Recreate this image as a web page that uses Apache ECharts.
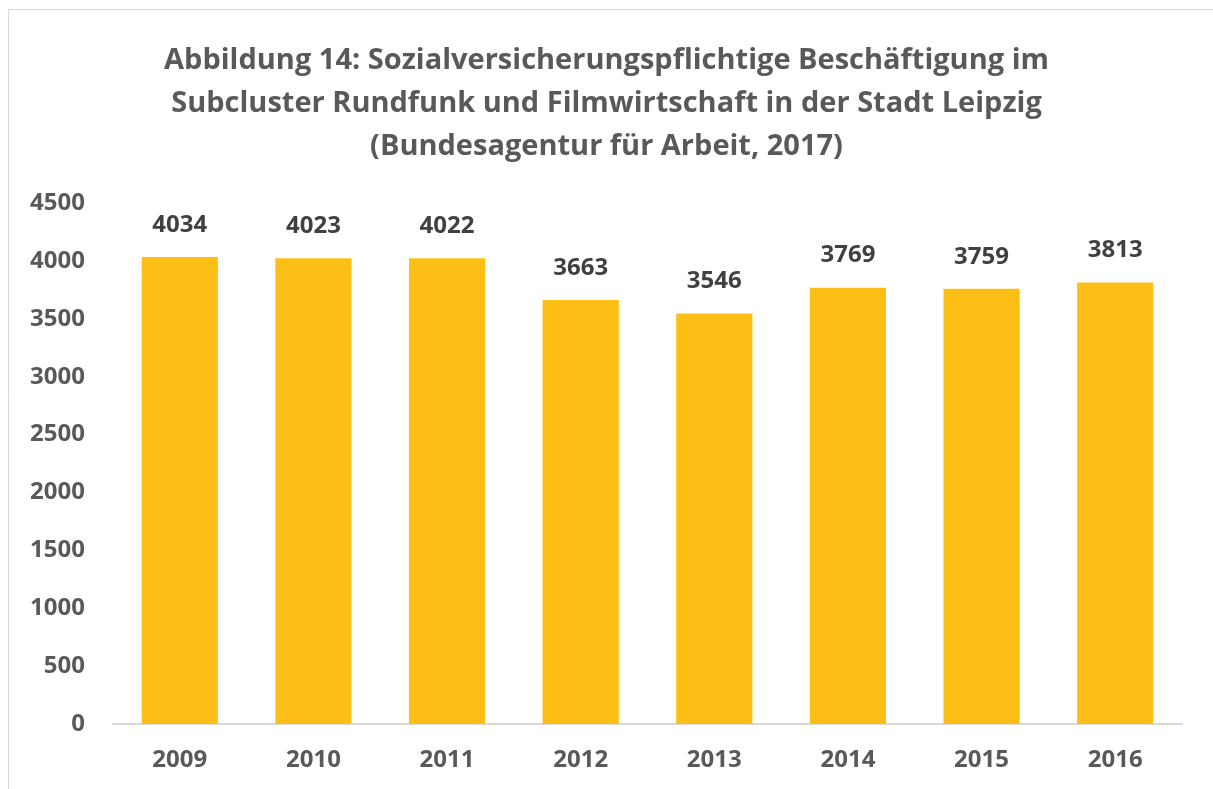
<!DOCTYPE html>
<html>
<head>
<meta charset="utf-8">
<script src="https://cdn.jsdelivr.net/npm/echarts@6/dist/echarts.min.js"></script>
<style>
  html, body { margin: 0; padding: 0; background: #fff; }
  #chart_bar { width: 1213px; height: 789px; }
</style>
</head>
<body>
<div id="chart_bar"></div>
<script>
var years = ['2009', '2010', '2011', '2012', '2013', '2014', '2015', '2016']
var employees = [4034, 4023, 4022, 3663, 3546, 3769, 3759, 3813]
var titleLines = [
  'Abbildung 14: Sozialversicherungspflichtige Beschäftigung im',
  'Subcluster Rundfunk und Filmwirtschaft in der Stadt Leipzig',
  '(Bundesagentur für Arbeit, 2017)'
]

var font = '"Open Sans", Lato, sans-serif'
var chart = echarts.init(document.getElementById('chart_bar'))

chart.setOption({
  animation: false,
  graphic: [
    {
      type: 'rect',
      shape: { x: 8.5, y: 9.5, width: 1400, height: 1000 },
      style: { fill: 'none', stroke: '#d9d9d9', lineWidth: 1 }
    }
  ],
  title: {
    text: titleLines.join('\n'),
    left: 'center',
    top: 34,
    textStyle: {
      fontFamily: font,
      fontSize: 29,
      fontWeight: 'bold',
      color: '#595959',
      lineHeight: 43
    }
  },
  grid: {
    left: 113,
    right: 31,
    top: 203,
    bottom: 65
  },
  xAxis: {
    type: 'category',
    data: years,
    axisTick: { show: false },
    axisLine: { lineStyle: { color: '#d9d9d9', width: 2 } },
    axisLabel: {
      margin: 24,
      fontFamily: font,
      fontSize: 24,
      fontWeight: 'bold',
      color: '#595959'
    }
  },
  yAxis: {
    type: 'value',
    min: 0,
    max: 4500,
    interval: 500,
    splitLine: { show: false },
    axisLine: { show: false },
    axisTick: { show: false },
    axisLabel: {
      margin: 28,
      fontFamily: font,
      fontSize: 24,
      fontWeight: 'bold',
      color: '#595959',
      formatter: function (v) { return String(v) }
    }
  },
  series: [
    {
      type: 'bar',
      data: employees,
      barWidth: '57%',
      itemStyle: { color: '#FDBF16' },
      label: {
        show: true,
        position: 'top',
        distance: 20,
        fontFamily: font,
        fontSize: 24,
        fontWeight: 'bold',
        color: '#404040'
      }
    }
  ]
})
</script>
</body>
</html>
